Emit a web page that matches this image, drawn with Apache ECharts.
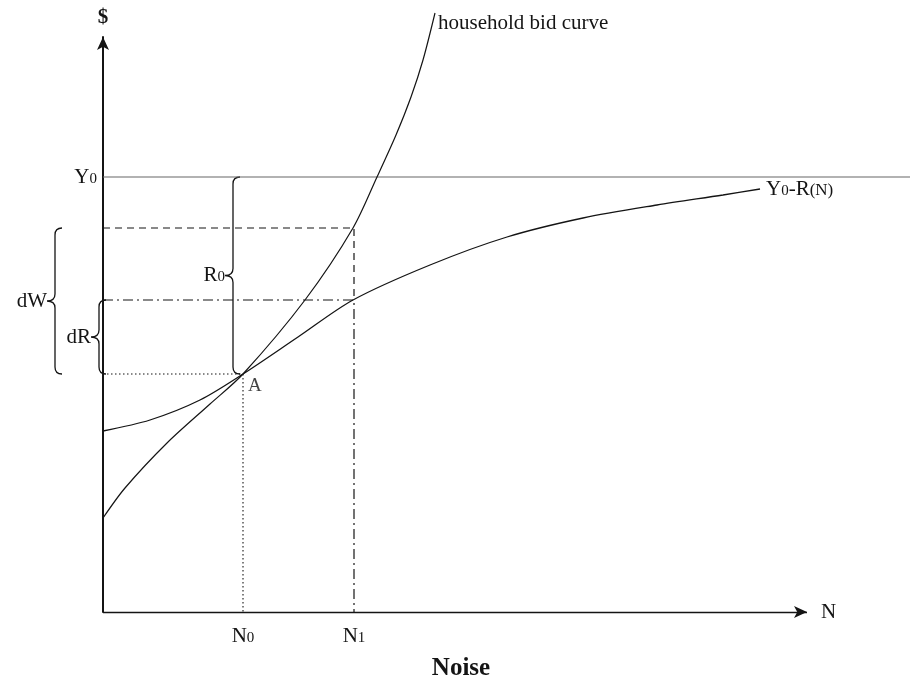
<!DOCTYPE html>
<html>
<head>
<meta charset="utf-8">
<script src="https://cdn.jsdelivr.net/npm/echarts@6/dist/echarts.min.js"></script>
<style>html,body{margin:0;padding:0;background:#fff}#c{width:910px;height:679px}</style>
</head>
<body>
<div id="c"></div>
<script>
// ---- data (schematic units) ----
const N0 = 140;            // noise level at A
const N1 = 251;            // higher noise level
const Y0 = 435;            // income level
const levelA = 238;        // bid / Y0-R at N0 (point A)
const bidAtN1 = 384;       // household bid at N1
const curveAtN1 = 312;     // Y0-R(N) at N1
const xAxisEnd = 704;      // where the N axis arrow ends
const xEnd = 807;          // Y0 line runs across the whole picture

const rCurveX = [0, 47, 97, 140, 195, 250, 327, 404, 480, 554, 620, 657];
const rCurveY = [181, 192, 212, 238, 275, 312, 347, 375, 394, 407, 417, 423];

const bidX = [0, 22, 64, 107, 140, 202, 250, 274, 293, 308, 320, 332];
const bidY = [94, 124, 169, 208, 238, 312, 384, 435, 477, 515, 552, 599];

const xTicks = [N0, N1];
const xTickNames = ['N', 'N'];
const xTickSubs = ['0', '1'];

const FONT = 'Liberation Serif';
const INK = '#141414';
const FS = 21, FSS = 15;

const rCurve = rCurveX.map((x, i) => [x, rCurveY[i]]);
const bidCurve = bidX.map((x, i) => [x, bidY[i]]);

// braces: [spineX, topY, bottomY, label]
const braces = [
  [130, Y0, levelA, 'R0'],
  [-4, curveAtN1, levelA, 'dR'],
  [-48, bidAtN1, levelA, 'dW']
];

const chart = echarts.init(document.getElementById('c'));

function braceItem(params, api) {
  const sx = api.value(0), yt = api.value(1), yb = api.value(2);
  const p1 = api.coord([sx, yt]);
  const p2 = api.coord([sx, yb]);
  const x = p1[0], y1 = p1[1], y2 = p2[1];
  const w = 7, d = 8;
  const ym = (y1 + y2) / 2;
  const path = 'M' + (x + w) + ' ' + y1 +
    ' Q' + x + ' ' + y1 + ' ' + x + ' ' + (y1 + w) +
    ' L' + x + ' ' + (ym - w) +
    ' Q' + x + ' ' + ym + ' ' + (x - d) + ' ' + ym +
    ' Q' + x + ' ' + ym + ' ' + x + ' ' + (ym + w) +
    ' L' + x + ' ' + (y2 - w) +
    ' Q' + x + ' ' + y2 + ' ' + (x + w) + ' ' + y2;
  const lab = braces[params.dataIndex][3];
  const children = [{
    type: 'path',
    shape: { pathData: path },
    style: { stroke: INK, fill: null, lineWidth: 1.3 }
  }];
  const txt = lab === 'R0' ? '{m|R}{s|0}' : '{m|' + lab + '}';
  children.push({
    type: 'text',
    style: {
      x: x - d, y: ym, align: 'right', verticalAlign: 'middle',
      rich: {
        m: { fontFamily: FONT, fontSize: FS, fill: INK },
        s: { fontFamily: FONT, fontSize: FSS, fill: INK, padding: [4, 0, 0, 0] }
      },
      text: txt
    }
  });
  return { type: 'group', children: children };
}

const richSub = {
  m: { fontFamily: FONT, fontSize: FS, color: INK },
  s: { fontFamily: FONT, fontSize: FSS, color: INK, padding: [4, 0, 0, 0] },
  t: { fontFamily: FONT, fontSize: 17, color: INK, padding: [3, 0, 0, 0] }
};

chart.setOption({
  animation: false,
  backgroundColor: '#fff',
  title: {
    text: 'Noise',
    left: 456, top: 651, textAlign: 'center',
    textStyle: { fontFamily: FONT, fontSize: 25, fontWeight: 'bold', color: INK }
  },
  grid: { left: 103, top: 37, width: 807, height: 575 },
  xAxis: {
    type: 'value', min: 0, max: xEnd,
    splitLine: { show: false }, axisTick: { show: false },
    axisLine: { show: false },
    axisLabel: {
      show: true, customValues: xTicks, margin: 14,
      formatter: function (v) { const i = xTicks.indexOf(v); return '{m|' + xTickNames[i] + '}{s|' + xTickSubs[i] + '}'; },
      rich: richSub
    }
  },
  yAxis: {
    type: 'value', min: 0, max: 575,
    splitLine: { show: false }, axisTick: { show: false },
    axisLine: { show: true, symbol: ['none', 'arrow'], symbolSize: [9, 13], lineStyle: { color: INK, width: 2 } },
    axisLabel: {
      show: true, customValues: [Y0], margin: 6,
      formatter: function () { return '{m|Y}{s|0}'; },
      rich: richSub
    },
    name: '$', nameLocation: 'end', nameGap: 9,
    nameTextStyle: { fontFamily: FONT, fontSize: 21, fontWeight: 'bold', color: INK, align: 'center' }
  },
  series: [
    {
      type: 'line', data: [[0, Y0], [xEnd, Y0]], symbol: 'none', silent: true,
      lineStyle: { color: '#666', width: 1.1 }
    },
    {
      type: 'line', data: rCurve, smooth: 0.3, symbol: 'none', clip: false, silent: true,
      lineStyle: { color: INK, width: 1.3 },
      endLabel: {
        show: true, distance: 6,
        formatter: '{m|Y}{s|0}{m|-R}{t|(N)}', rich: richSub
      }
    },
    {
      type: 'line', data: bidCurve, smooth: 0.3, symbol: 'none', clip: false, silent: true,
      lineStyle: { color: INK, width: 1.2 },
      endLabel: {
        show: true, offset: [-5, 10],
        formatter: 'household bid curve', fontFamily: FONT, fontSize: FS, color: INK
      }
    },
    {
      type: 'line', data: [[0, bidAtN1], [N1, bidAtN1], [N1, curveAtN1]], symbol: 'none', silent: true,
      lineStyle: { color: INK, width: 1.2, type: [7, 5] }
    },
    {
      type: 'line', data: [[0, curveAtN1], [N1, curveAtN1], [N1, 0]], symbol: 'none', silent: true,
      lineStyle: { color: INK, width: 1.2, type: [10, 4, 2, 4] }
    },
    {
      type: 'line', data: [[0, levelA], [N0, levelA], [N0, 0]], symbol: 'none', silent: true,
      lineStyle: { color: INK, width: 1.1, type: [1.5, 2.5] },
      markLine: {
        silent: true, animation: false,
        symbol: ['none', 'arrow'], symbolSize: [9, 13],
        lineStyle: { color: INK, width: 1.4, type: 'solid' },
        label: { show: true, position: 'end', distance: 14, formatter: 'N', fontFamily: FONT, fontSize: FS, color: INK },
        emphasis: { disabled: true },
        data: [[{ coord: [0, 0] }, { coord: [xAxisEnd, 0] }]]
      }
    },
    {
      type: 'custom', data: braces.map(b => [b[0], b[1], b[2]]), renderItem: braceItem, clip: false, silent: true
    },
    {
      type: 'scatter', data: [[N0, levelA]], symbolSize: 0, silent: true,
      label: { show: true, formatter: 'A', position: 'right', offset: [0, 12], fontFamily: FONT, fontSize: 19, color: INK }
    }
  ]
});
</script>
</body>
</html>
